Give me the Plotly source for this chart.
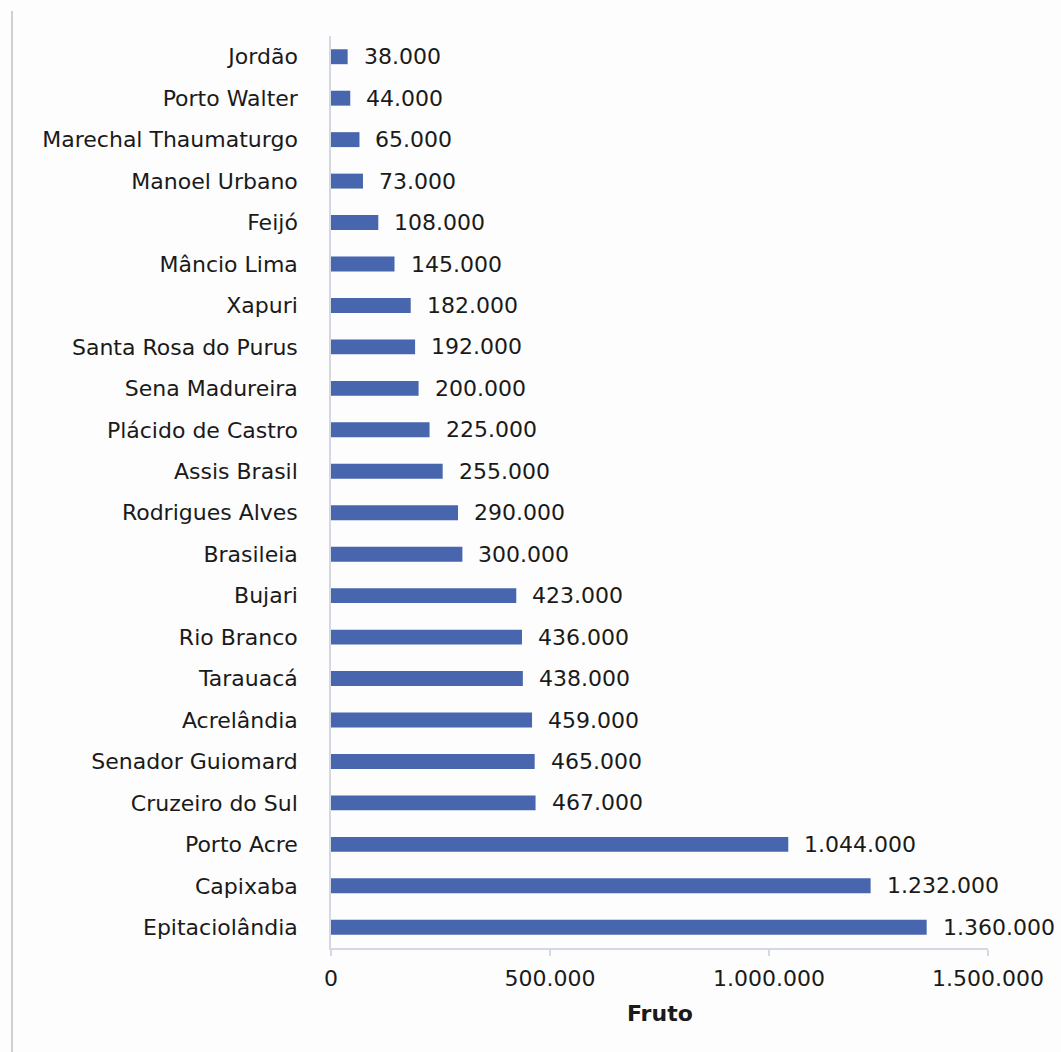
import plotly.graph_objects as go

# Production by municipality (Fruto)
municipios = [
    "Jordão", "Porto Walter", "Marechal Thaumaturgo", "Manoel Urbano", "Feijó",
    "Mâncio Lima", "Xapuri", "Santa Rosa do Purus", "Sena Madureira",
    "Plácido de Castro", "Assis Brasil", "Rodrigues Alves", "Brasileia",
    "Bujari", "Rio Branco", "Tarauacá", "Acrelândia", "Senador Guiomard",
    "Cruzeiro do Sul", "Porto Acre", "Capixaba", "Epitaciolândia",
]
fruto = [
    38000, 44000, 65000, 73000, 108000, 145000, 182000, 192000, 200000,
    225000, 255000, 290000, 300000, 423000, 436000, 438000, 459000, 465000,
    467000, 1044000, 1232000, 1360000,
]
tick_vals = [0, 500000, 1000000, 1500000]
tick_text = ["0", "500.000", "1.000.000", "1.500.000"]


def fmt(v):
    return f"{v:,}".replace(",", ".")


W, H = 1061, 1052
L, R, T, B = 331, 988, 36, 948
FONT = "DejaVu Sans, Verdana, sans-serif"
FS = 22
TXT = "#1a1a1a"
AXIS = "#d3d8e3"

fig = go.Figure(
    go.Bar(
        x=fruto,
        y=municipios,
        orientation="h",
        marker=dict(color="#4766ae", line=dict(width=0)),
        width=0.36,
        hoverinfo="x+y",
    )
)

# value labels to the right of each bar
for name, v in zip(municipios, fruto):
    fig.add_annotation(
        x=v, y=name, text=fmt(v), showarrow=False,
        xanchor="left", yanchor="middle", xshift=14,
        font=dict(family=FONT, size=FS, color=TXT),
    )

# axis title
fig.add_annotation(
    x=0.5, y=-0.072, xref="paper", yref="paper", text="<b>Fruto</b>",
    showarrow=False, xanchor="center", yanchor="middle",
    font=dict(family=FONT, size=FS, color=TXT),
)

# frame line along the left edge
pw, ph = R - L, B - T
fig.add_shape(
    type="line", xref="paper", yref="paper",
    x0=(12 - L) / pw, x1=(12 - L) / pw,
    y0=(B - 11) / ph, y1=(B - H - 5) / ph,
    line=dict(color="#cfcfcf", width=2),
)

fig.update_layout(
    width=W, height=H,
    margin=dict(l=L, r=W - R, t=T, b=H - B, pad=0),
    paper_bgcolor="#fdfdfd", plot_bgcolor="#fdfdfd",
    showlegend=False,
    font=dict(family=FONT, size=FS, color=TXT),
    xaxis=dict(
        range=[0, 1500000], tickvals=tick_vals, ticktext=tick_text,
        showgrid=False, zeroline=False, showline=True, linecolor=AXIS,
        linewidth=1.5, ticks="outside", ticklen=6, tickcolor=AXIS,
        tickwidth=1.5, ticklabelstandoff=4,
        tickfont=dict(family=FONT, size=FS, color=TXT),
        fixedrange=True,
    ),
    yaxis=dict(
        autorange="reversed", showgrid=False, zeroline=False, showline=True,
        linecolor=AXIS, linewidth=1.5, ticks="", ticklabelstandoff=27,
        tickfont=dict(family=FONT, size=FS, color=TXT), fixedrange=True,
    ),
)

fig.write_html("out.html")
